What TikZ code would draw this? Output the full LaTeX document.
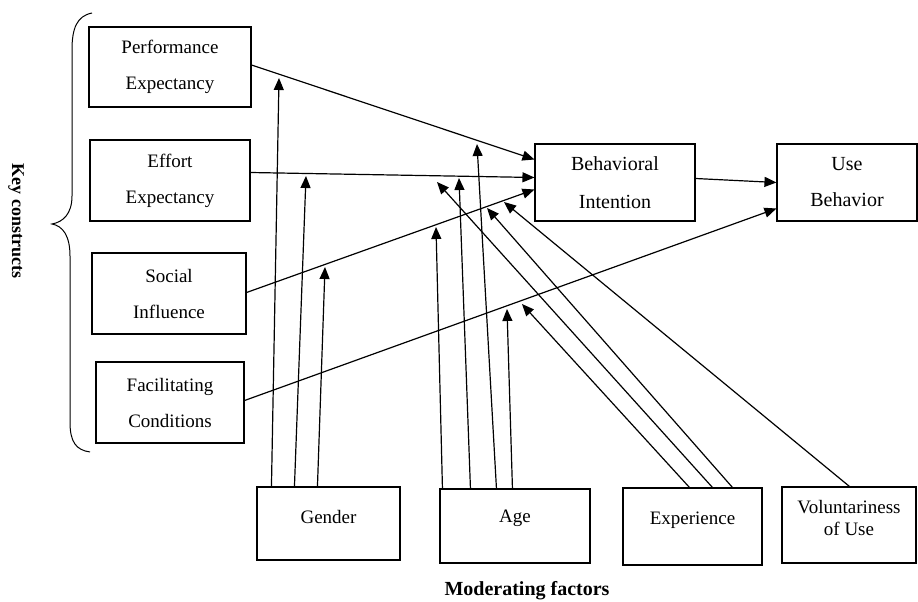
\documentclass[tikz,border=0pt]{standalone}
\usepackage{fontspec}
\setmainfont{Liberation Serif}
\usetikzlibrary{arrows.meta,calc}
\begin{document}
\begin{tikzpicture}[x=1pt,y=-1pt,
  box/.style={draw, line width=1.1pt, inner sep=0pt, align=center, font=\fontsize{19}{36}\selectfont},
  modbox/.style={draw, line width=1.1pt, inner sep=0pt, font=\fontsize{19}{22}\selectfont, text height=13pt},
  link/.style={line width=1.2pt, -{Triangle[length=12pt,width=10pt]}},
  title/.style={font=\bfseries\fontsize{18}{20}\selectfont}]
\useasboundingbox (0,0) rectangle (918,602);
% key constructs
\node[box, minimum width=162pt, minimum height=80pt] (pe) at (170,67) {Performance\\Expectancy};
\node[box, minimum width=160pt, minimum height=81pt] (ee) at (170,180.5) {Effort\\Expectancy};
\node[box, minimum width=154pt, minimum height=81pt] (si) at (169,293.5) {Social\\Influence};
\node[box, minimum width=148pt, minimum height=81pt] (fc) at (170,402.5) {Facilitating\\Conditions};
\node[box, minimum width=160pt, minimum height=77pt, font=\fontsize{20}{38}\selectfont] (bi) at (615,182.5) {Behavioral\\Intention};
\node[box, minimum width=140pt, minimum height=77pt, font=\fontsize{20}{36}\selectfont] (ub) at (847,182.5) {Use\\Behavior};
% moderators
\node[modbox, text depth=13pt, minimum width=143pt, minimum height=73pt] (gen) at (328.5,523.5) {Gender};
\node[modbox, text depth=21pt, minimum width=150pt, minimum height=74pt] (age) at (515,526) {Age};
\node[modbox, text depth=18pt, minimum width=139pt, minimum height=77pt] (exp) at (692.5,526.5) {Experience};
\node[modbox, text depth=37pt, minimum width=134pt, minimum height=76pt] (vol) at (849,525) {\begin{tabular}[t]{@{}c@{}}Voluntariness\\of Use\end{tabular}};
% brace and labels
\draw[line width=1pt] (92,13) .. controls (77,16) and (72,28) .. (72,50) -- (72,196)
  .. controls (72,214) and (63,222) .. (52,224)
  .. controls (63,226) and (70,236) .. (70,256) -- (70,422)
  .. controls (70,442) and (76,450) .. (90,452);
\node[title, rotate=-90] (kc) at (16,221) {Key constructs};
\node[title, font=\bfseries\fontsize{20}{22}\selectfont, anchor=base] (mf) at (527,595) {Moderating factors};
% main paths
\draw[link] ([yshift=2pt]pe.east) -- ([yshift=23pt]bi.west);
\draw[link] ([yshift=8pt]ee.east) -- ([yshift=5pt]bi.west);
\draw[link] ([yshift=1pt]si.east) -- ([yshift=-7pt]bi.west);
\draw[link] ([yshift=2pt]fc.east) -- ([yshift=-26pt]ub.west);
\draw[link] ([yshift=4pt]bi.east) -- (ub.west);
% moderating effect targets
\coordinate (g1) at (279,78);
\coordinate (g2) at (306,176);
\coordinate (g3) at (325,267);
\coordinate (a1) at (436,227);
\coordinate (a2) at (459,178);
\coordinate (a3) at (477,144);
\coordinate (a4) at (507,309);
\coordinate (e1) at (522,304);
\coordinate (e2) at (437,182);
\coordinate (e3) at (487,208);
\coordinate (v1) at (504,202);
% moderating arrows
\draw[link] ([xshift=15pt]gen.north west) -- (g1);
\draw[link] ([xshift=38pt]gen.north west) -- (g2);
\draw[link] ([xshift=61pt]gen.north west) -- (g3);
\draw[link] ([xshift=3pt]age.north west) -- (a1);
\draw[link] ([xshift=31pt]age.north west) -- (a2);
\draw[link] ([xshift=57pt]age.north west) -- (a3);
\draw[link] ([xshift=73pt]age.north west) -- (a4);
\draw[link] ([xshift=67pt]exp.north west) -- (e1);
\draw[link] ([xshift=90pt]exp.north west) -- (e2);
\draw[link] ([xshift=110pt]exp.north west) -- (e3);
\draw[link] ([xshift=68pt]vol.north west) -- (v1);
\end{tikzpicture}
\end{document}
